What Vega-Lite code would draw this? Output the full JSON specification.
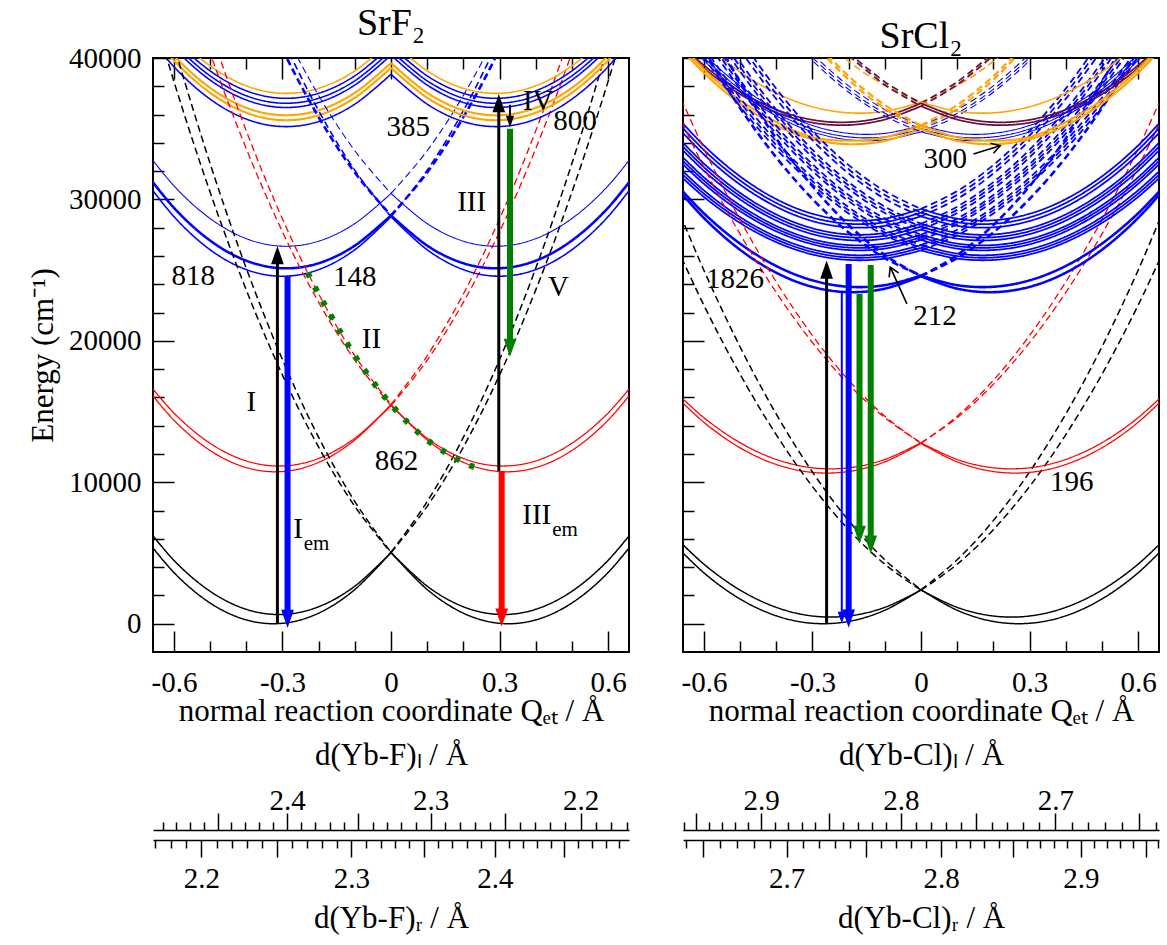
{
"$schema": "https://vega.github.io/schema/vega-lite/v6.json",
"padding": {"left": 26, "top": 4, "right": 5, "bottom": 5},
"config": {
 "font": "Liberation Serif",
 "view": {"stroke": "black", "strokeWidth": 2},
 "axis": {"labelFont": "Liberation Serif", "titleFont": "Liberation Serif", "labelFontSize": 29, "titleFontSize": 31, "titleFontWeight": "normal", "labelColor": "black", "titleColor": "black", "tickColor": "black", "tickWidth": 1.5, "domain": false, "grid": false, "labelOverlap": false, "labelFlush": false},
 "title": {"font": "Liberation Serif", "fontSize": 38, "fontWeight": "normal", "color": "black"}
},
"datasets": {
"f": [
{"i":"G1s","g":"gs","s":"s","q":-0.7,"e":6722},{"i":"G1s","g":"gs","s":"s","q":-0.6,"e":3615},{"i":"G1s","g":"gs","s":"s","q":-0.5,"e":1464},{"i":"G1s","g":"gs","s":"s","q":-0.4,"e":269},{"i":"G1s","g":"gs","s":"s","q":-0.3,"e":30},{"i":"G1s","g":"gs","s":"s","q":-0.2,"e":747},{"i":"G1s","g":"gs","s":"s","q":-0.1,"e":2420},{"i":"G1s","g":"gs","s":"s","q":0,"e":5049},
{"i":"G1d","g":"gs","s":"d","q":0,"e":5049},{"i":"G1d","g":"gs","s":"d","q":0.1,"e":8634},{"i":"G1d","g":"gs","s":"d","q":0.2,"e":13175},{"i":"G1d","g":"gs","s":"d","q":0.3,"e":18672},{"i":"G1d","g":"gs","s":"d","q":0.4,"e":25125},{"i":"G1d","g":"gs","s":"d","q":0.5,"e":32534},{"i":"G1d","g":"gs","s":"d","q":0.6,"e":40899},{"i":"G1d","g":"gs","s":"d","q":0.7,"e":50220},
{"i":"G2s","g":"gs","s":"s","q":-0.7,"e":7571},{"i":"G2s","g":"gs","s":"s","q":-0.6,"e":4477},{"i":"G2s","g":"gs","s":"s","q":-0.5,"e":2293},{"i":"G2s","g":"gs","s":"s","q":-0.4,"e":1019},{"i":"G2s","g":"gs","s":"s","q":-0.3,"e":655},{"i":"G2s","g":"gs","s":"s","q":-0.2,"e":1201},{"i":"G2s","g":"gs","s":"s","q":-0.1,"e":2657},{"i":"G2s","g":"gs","s":"s","q":0,"e":5023},
{"i":"G2d","g":"gs","s":"d","q":0,"e":5023},{"i":"G2d","g":"gs","s":"d","q":0.1,"e":8299},{"i":"G2d","g":"gs","s":"d","q":0.2,"e":12485},{"i":"G2d","g":"gs","s":"d","q":0.3,"e":17581},{"i":"G2d","g":"gs","s":"d","q":0.4,"e":23587},{"i":"G2d","g":"gs","s":"d","q":0.5,"e":30503},{"i":"G2d","g":"gs","s":"d","q":0.6,"e":38329},{"i":"G2d","g":"gs","s":"d","q":0.7,"e":47065},
{"i":"R1s","g":"f52","s":"s","q":-0.7,"e":17455},{"i":"R1s","g":"f52","s":"s","q":-0.6,"e":14386},{"i":"R1s","g":"f52","s":"s","q":-0.5,"e":12247},{"i":"R1s","g":"f52","s":"s","q":-0.4,"e":11038},{"i":"R1s","g":"f52","s":"s","q":-0.3,"e":10759},{"i":"R1s","g":"f52","s":"s","q":-0.2,"e":11410},{"i":"R1s","g":"f52","s":"s","q":-0.1,"e":12991},{"i":"R1s","g":"f52","s":"s","q":0,"e":15502},
{"i":"R1d","g":"f52","s":"d","q":0,"e":15502},{"i":"R1d","g":"f52","s":"d","q":0.1,"e":18943},{"i":"R1d","g":"f52","s":"d","q":0.2,"e":23314},{"i":"R1d","g":"f52","s":"d","q":0.3,"e":28615},{"i":"R1d","g":"f52","s":"d","q":0.4,"e":34846},{"i":"R1d","g":"f52","s":"d","q":0.5,"e":42007},{"i":"R1d","g":"f52","s":"d","q":0.6,"e":50098},
{"i":"R2s","g":"f52","s":"s","q":-0.7,"e":17918},{"i":"R2s","g":"f52","s":"s","q":-0.6,"e":14892},{"i":"R2s","g":"f52","s":"s","q":-0.5,"e":12756},{"i":"R2s","g":"f52","s":"s","q":-0.4,"e":11510},{"i":"R2s","g":"f52","s":"s","q":-0.3,"e":11154},{"i":"R2s","g":"f52","s":"s","q":-0.2,"e":11688},{"i":"R2s","g":"f52","s":"s","q":-0.1,"e":13112},{"i":"R2s","g":"f52","s":"s","q":0,"e":15426},
{"i":"R2d","g":"f52","s":"d","q":0,"e":15426},{"i":"R2d","g":"f52","s":"d","q":0.1,"e":18630},{"i":"R2d","g":"f52","s":"d","q":0.2,"e":22724},{"i":"R2d","g":"f52","s":"d","q":0.3,"e":27708},{"i":"R2d","g":"f52","s":"d","q":0.4,"e":33582},{"i":"R2d","g":"f52","s":"d","q":0.5,"e":40346},{"i":"R2d","g":"f52","s":"d","q":0.6,"e":48000},
{"i":"B1s","g":"d5","s":"s","q":-0.7,"e":32058},{"i":"B1s","g":"d5","s":"s","q":-0.6,"e":28782},{"i":"B1s","g":"d5","s":"s","q":-0.5,"e":26442},{"i":"B1s","g":"d5","s":"s","q":-0.4,"e":25038},{"i":"B1s","g":"d5","s":"s","q":-0.3,"e":24570},{"i":"B1s","g":"d5","s":"s","q":-0.2,"e":25038},{"i":"B1s","g":"d5","s":"s","q":-0.1,"e":26442},{"i":"B1s","g":"d5","s":"s","q":0,"e":28782},
{"i":"B1d","g":"d5","s":"d","q":0,"e":28782},{"i":"B1d","g":"d5","s":"d","q":0.1,"e":32058},{"i":"B1d","g":"d5","s":"d","q":0.2,"e":36270},{"i":"B1d","g":"d5","s":"d","q":0.3,"e":41418},{"i":"B1d","g":"d5","s":"d","q":0.4,"e":47502},
{"i":"B2s","g":"d5b","s":"s","q":-0.7,"e":32610},{"i":"B2s","g":"d5b","s":"s","q":-0.6,"e":29406},{"i":"B2s","g":"d5b","s":"s","q":-0.5,"e":27092},{"i":"B2s","g":"d5b","s":"s","q":-0.4,"e":25668},{"i":"B2s","g":"d5b","s":"s","q":-0.3,"e":25134},{"i":"B2s","g":"d5b","s":"s","q":-0.2,"e":25490},{"i":"B2s","g":"d5b","s":"s","q":-0.1,"e":26736},{"i":"B2s","g":"d5b","s":"s","q":0,"e":28872},
{"i":"B2d","g":"d5b","s":"d","q":0,"e":28872},{"i":"B2d","g":"d5b","s":"d","q":0.1,"e":31898},{"i":"B2d","g":"d5b","s":"d","q":0.2,"e":35814},{"i":"B2d","g":"d5b","s":"d","q":0.3,"e":40620},{"i":"B2d","g":"d5b","s":"d","q":0.4,"e":46316},
{"i":"B3s","g":"d5t","s":"s","q":-0.7,"e":34154},{"i":"B3s","g":"d5t","s":"s","q":-0.6,"e":30957},{"i":"B3s","g":"d5t","s":"s","q":-0.5,"e":28648},{"i":"B3s","g":"d5t","s":"s","q":-0.4,"e":27227},{"i":"B3s","g":"d5t","s":"s","q":-0.3,"e":26694},{"i":"B3s","g":"d5t","s":"s","q":-0.2,"e":27050},{"i":"B3s","g":"d5t","s":"s","q":-0.1,"e":28293},{"i":"B3s","g":"d5t","s":"s","q":0,"e":30424},
{"i":"B3d","g":"d5t","s":"d","q":0,"e":30424},{"i":"B3d","g":"d5t","s":"d","q":0.1,"e":33443},{"i":"B3d","g":"d5t","s":"d","q":0.2,"e":37350},{"i":"B3d","g":"d5t","s":"d","q":0.3,"e":42146},{"i":"B3d","g":"d5t","s":"d","q":0.4,"e":47829},
{"i":"U1s","g":"s6t","s":"s","q":-0.7,"e":44896},{"i":"U1s","g":"s6t","s":"s","q":-0.6,"e":41728},{"i":"U1s","g":"s6t","s":"s","q":-0.5,"e":39440},{"i":"U1s","g":"s6t","s":"s","q":-0.4,"e":38032},{"i":"U1s","g":"s6t","s":"s","q":-0.3,"e":37504},{"i":"U1s","g":"s6t","s":"s","q":-0.2,"e":37856},{"i":"U1s","g":"s6t","s":"s","q":-0.1,"e":39088},{"i":"U1s","g":"s6t","s":"s","q":0,"e":41200},
{"i":"U2s","g":"d5","s":"s","q":-0.7,"e":44546},{"i":"U2s","g":"d5","s":"s","q":-0.6,"e":41378},{"i":"U2s","g":"d5","s":"s","q":-0.5,"e":39090},{"i":"U2s","g":"d5","s":"s","q":-0.4,"e":37682},{"i":"U2s","g":"d5","s":"s","q":-0.3,"e":37154},{"i":"U2s","g":"d5","s":"s","q":-0.2,"e":37506},{"i":"U2s","g":"d5","s":"s","q":-0.1,"e":38738},{"i":"U2s","g":"d5","s":"s","q":0,"e":40850},
{"i":"U3s","g":"d5","s":"s","q":-0.7,"e":44196},{"i":"U3s","g":"d5","s":"s","q":-0.6,"e":41028},{"i":"U3s","g":"d5","s":"s","q":-0.5,"e":38740},{"i":"U3s","g":"d5","s":"s","q":-0.4,"e":37332},{"i":"U3s","g":"d5","s":"s","q":-0.3,"e":36804},{"i":"U3s","g":"d5","s":"s","q":-0.2,"e":37156},{"i":"U3s","g":"d5","s":"s","q":-0.1,"e":38388},{"i":"U3s","g":"d5","s":"s","q":0,"e":40500},
{"i":"U4s","g":"d5","s":"s","q":-0.7,"e":43896},{"i":"U4s","g":"d5","s":"s","q":-0.6,"e":40728},{"i":"U4s","g":"d5","s":"s","q":-0.5,"e":38440},{"i":"U4s","g":"d5","s":"s","q":-0.4,"e":37032},{"i":"U4s","g":"d5","s":"s","q":-0.3,"e":36504},{"i":"U4s","g":"d5","s":"s","q":-0.2,"e":36856},{"i":"U4s","g":"d5","s":"s","q":-0.1,"e":38088},{"i":"U4s","g":"d5","s":"s","q":0,"e":40200},
{"i":"U5s","g":"s6","s":"s","q":-0.7,"e":43346},{"i":"U5s","g":"s6","s":"s","q":-0.6,"e":40178},{"i":"U5s","g":"s6","s":"s","q":-0.5,"e":37890},{"i":"U5s","g":"s6","s":"s","q":-0.4,"e":36482},{"i":"U5s","g":"s6","s":"s","q":-0.3,"e":35954},{"i":"U5s","g":"s6","s":"s","q":-0.2,"e":36306},{"i":"U5s","g":"s6","s":"s","q":-0.1,"e":37538},{"i":"U5s","g":"s6","s":"s","q":0,"e":39650},
{"i":"U6s","g":"s6","s":"s","q":-0.7,"e":42996},{"i":"U6s","g":"s6","s":"s","q":-0.6,"e":39828},{"i":"U6s","g":"s6","s":"s","q":-0.5,"e":37540},{"i":"U6s","g":"s6","s":"s","q":-0.4,"e":36132},{"i":"U6s","g":"s6","s":"s","q":-0.3,"e":35604},{"i":"U6s","g":"s6","s":"s","q":-0.2,"e":35956},{"i":"U6s","g":"s6","s":"s","q":-0.1,"e":37188},{"i":"U6s","g":"s6","s":"s","q":0,"e":39300},
{"i":"U7s","g":"d5","s":"s","q":-0.7,"e":42546},{"i":"U7s","g":"d5","s":"s","q":-0.6,"e":39378},{"i":"U7s","g":"d5","s":"s","q":-0.5,"e":37090},{"i":"U7s","g":"d5","s":"s","q":-0.4,"e":35682},{"i":"U7s","g":"d5","s":"s","q":-0.3,"e":35154},{"i":"U7s","g":"d5","s":"s","q":-0.2,"e":35506},{"i":"U7s","g":"d5","s":"s","q":-0.1,"e":36738},{"i":"U7s","g":"d5","s":"s","q":0,"e":38850}
],
"fp": [
{"q":-0.23,"e":24806},{"q":-0.2,"e":23314},{"q":-0.1,"e":18943},{"q":0,"e":15502},{"q":0.1,"e":12991},{"q":0.2,"e":11410},{"q":0.24,"e":11038}
],
"fa": [
{"q":-0.314,"e1":0,"e2":26060,"g":"abs","d":"up","h":"L"},
{"q":-0.286,"e1":24570,"e2":340,"g":"em5d","d":"dn","h":"L"},
{"q":0.298,"e1":10800,"e2":36810,"g":"abs","d":"up","h":"L"},
{"q":0.306,"e1":10800,"e2":440,"g":"em4f","d":"dn","h":"L"},
{"q":0.329,"e1":35000,"e2":19510,"g":"nr","d":"dn","h":"L"},
{"q":0.329,"e1":36700,"e2":35500,"g":"small","d":"dn","h":"S"}
],
"ft": [
{"t":"818","q":-0.547,"e":24615,"z":"n"},
{"t":"148","q":-0.1,"e":24500,"z":"n"},
{"t":"II","q":-0.054,"e":20140,"z":"n"},
{"t":"I","q":-0.386,"e":15667,"z":"n"},
{"t":"I","q":-0.257,"e":6714,"z":"n"},
{"t":"em","q":-0.206,"e":5654,"z":"s"},
{"t":"862","q":0.015,"e":11540,"z":"n"},
{"t":"III","q":0.223,"e":29800,"z":"n"},
{"t":"IV","q":0.407,"e":36980,"z":"n"},
{"t":"385","q":0.048,"e":35100,"z":"n"},
{"t":"800","q":0.509,"e":35570,"z":"n"},
{"t":"V","q":0.463,"e":23795,"z":"n"},
{"t":"III","q":0.403,"e":7654,"z":"n"},
{"t":"em","q":0.481,"e":6594,"z":"s"}
],
"c": [
{"i":"G1s","g":"gs","s":"s","q":-0.7,"e":6102},{"i":"G1s","g":"gs","s":"s","q":-0.6,"e":3594},{"i":"G1s","g":"gs","s":"s","q":-0.5,"e":1746},{"i":"G1s","g":"gs","s":"s","q":-0.4,"e":558},{"i":"G1s","g":"gs","s":"s","q":-0.3,"e":30},{"i":"G1s","g":"gs","s":"s","q":-0.2,"e":162},{"i":"G1s","g":"gs","s":"s","q":-0.1,"e":954},{"i":"G1s","g":"gs","s":"s","q":0,"e":2406},
{"i":"G1d","g":"gs","s":"d","q":0,"e":2406},{"i":"G1d","g":"gs","s":"d","q":0.1,"e":4518},{"i":"G1d","g":"gs","s":"d","q":0.2,"e":7290},{"i":"G1d","g":"gs","s":"d","q":0.3,"e":10722},{"i":"G1d","g":"gs","s":"d","q":0.4,"e":14814},{"i":"G1d","g":"gs","s":"d","q":0.5,"e":19566},{"i":"G1d","g":"gs","s":"d","q":0.6,"e":24978},{"i":"G1d","g":"gs","s":"d","q":0.7,"e":31050},
{"i":"G2s","g":"gs","s":"s","q":-0.7,"e":6646},{"i":"G2s","g":"gs","s":"s","q":-0.6,"e":4206},{"i":"G2s","g":"gs","s":"s","q":-0.5,"e":2376},{"i":"G2s","g":"gs","s":"s","q":-0.4,"e":1156},{"i":"G2s","g":"gs","s":"s","q":-0.3,"e":546},{"i":"G2s","g":"gs","s":"s","q":-0.2,"e":546},{"i":"G2s","g":"gs","s":"s","q":-0.1,"e":1156},{"i":"G2s","g":"gs","s":"s","q":0,"e":2376},
{"i":"G2d","g":"gs","s":"d","q":0,"e":2376},{"i":"G2d","g":"gs","s":"d","q":0.1,"e":4206},{"i":"G2d","g":"gs","s":"d","q":0.2,"e":6646},{"i":"G2d","g":"gs","s":"d","q":0.3,"e":9696},{"i":"G2d","g":"gs","s":"d","q":0.4,"e":13356},{"i":"G2d","g":"gs","s":"d","q":0.5,"e":17626},{"i":"G2d","g":"gs","s":"d","q":0.6,"e":22506},{"i":"G2d","g":"gs","s":"d","q":0.7,"e":27996},
{"i":"R1s","g":"f52","s":"s","q":-0.7,"e":16652},{"i":"R1s","g":"f52","s":"s","q":-0.6,"e":14234},{"i":"R1s","g":"f52","s":"s","q":-0.5,"e":12436},{"i":"R1s","g":"f52","s":"s","q":-0.4,"e":11258},{"i":"R1s","g":"f52","s":"s","q":-0.3,"e":10700},{"i":"R1s","g":"f52","s":"s","q":-0.2,"e":10762},{"i":"R1s","g":"f52","s":"s","q":-0.1,"e":11444},{"i":"R1s","g":"f52","s":"s","q":0,"e":12746},
{"i":"R1d","g":"f52","s":"d","q":0,"e":12746},{"i":"R1d","g":"f52","s":"d","q":0.1,"e":14668},{"i":"R1d","g":"f52","s":"d","q":0.2,"e":17210},{"i":"R1d","g":"f52","s":"d","q":0.3,"e":20372},{"i":"R1d","g":"f52","s":"d","q":0.4,"e":24154},{"i":"R1d","g":"f52","s":"d","q":0.5,"e":28556},{"i":"R1d","g":"f52","s":"d","q":0.6,"e":33578},{"i":"R1d","g":"f52","s":"d","q":0.7,"e":39220},
{"i":"R2s","g":"f52","s":"s","q":-0.7,"e":16924},{"i":"R2s","g":"f52","s":"s","q":-0.6,"e":14564},{"i":"R2s","g":"f52","s":"s","q":-0.5,"e":12794},{"i":"R2s","g":"f52","s":"s","q":-0.4,"e":11614},{"i":"R2s","g":"f52","s":"s","q":-0.3,"e":11024},{"i":"R2s","g":"f52","s":"s","q":-0.2,"e":11024},{"i":"R2s","g":"f52","s":"s","q":-0.1,"e":11614},{"i":"R2s","g":"f52","s":"s","q":0,"e":12794},
{"i":"R2d","g":"f52","s":"d","q":0,"e":12794},{"i":"R2d","g":"f52","s":"d","q":0.1,"e":14564},{"i":"R2d","g":"f52","s":"d","q":0.2,"e":16924},{"i":"R2d","g":"f52","s":"d","q":0.3,"e":19874},{"i":"R2d","g":"f52","s":"d","q":0.4,"e":23414},{"i":"R2d","g":"f52","s":"d","q":0.5,"e":27544},{"i":"R2d","g":"f52","s":"d","q":0.6,"e":32264},{"i":"R2d","g":"f52","s":"d","q":0.7,"e":37574},
{"i":"L1s","g":"d5b","s":"s","q":-0.7,"e":31555},{"i":"L1s","g":"d5b","s":"s","q":-0.6,"e":28685},{"i":"L1s","g":"d5b","s":"s","q":-0.5,"e":26438},{"i":"L1s","g":"d5b","s":"s","q":-0.4,"e":24816},{"i":"L1s","g":"d5b","s":"s","q":-0.3,"e":23818},{"i":"L1s","g":"d5b","s":"s","q":-0.2,"e":23443},{"i":"L1s","g":"d5b","s":"s","q":-0.1,"e":23693},{"i":"L1s","g":"d5b","s":"s","q":0,"e":24566},
{"i":"L1d","g":"d5b","s":"d","q":0,"e":24566},{"i":"L1d","g":"d5b","s":"d","q":0.1,"e":26064},{"i":"L1d","g":"d5b","s":"d","q":0.2,"e":28186},{"i":"L1d","g":"d5b","s":"d","q":0.3,"e":30931},{"i":"L1d","g":"d5b","s":"d","q":0.4,"e":34301},{"i":"L1d","g":"d5b","s":"d","q":0.5,"e":38294},{"i":"L1d","g":"d5b","s":"d","q":0.6,"e":42912},
{"i":"L2s","g":"d5b","s":"s","q":-0.7,"e":31721},{"i":"L2s","g":"d5b","s":"s","q":-0.6,"e":29014},{"i":"L2s","g":"d5b","s":"s","q":-0.5,"e":26871},{"i":"L2s","g":"d5b","s":"s","q":-0.4,"e":25292},{"i":"L2s","g":"d5b","s":"s","q":-0.3,"e":24277},{"i":"L2s","g":"d5b","s":"s","q":-0.2,"e":23825},{"i":"L2s","g":"d5b","s":"s","q":-0.1,"e":23938},{"i":"L2s","g":"d5b","s":"s","q":0,"e":24615},
{"i":"L2d","g":"d5b","s":"d","q":0,"e":24615},{"i":"L2d","g":"d5b","s":"d","q":0.1,"e":25856},{"i":"L2d","g":"d5b","s":"d","q":0.2,"e":27661},{"i":"L2d","g":"d5b","s":"d","q":0.3,"e":30029},{"i":"L2d","g":"d5b","s":"d","q":0.4,"e":32962},{"i":"L2d","g":"d5b","s":"d","q":0.5,"e":36459},{"i":"L2d","g":"d5b","s":"d","q":0.6,"e":40520},
{"i":"C1s","g":"d5c","s":"s","q":-0.7,"e":32498},{"i":"C1s","g":"d5c","s":"s","q":-0.6,"e":30175},{"i":"C1s","g":"d5c","s":"s","q":-0.5,"e":28335},{"i":"C1s","g":"d5c","s":"s","q":-0.4,"e":26980},{"i":"C1s","g":"d5c","s":"s","q":-0.3,"e":26109},{"i":"C1s","g":"d5c","s":"s","q":-0.2,"e":25722},{"i":"C1s","g":"d5c","s":"s","q":-0.1,"e":25819},{"i":"C1s","g":"d5c","s":"s","q":0,"e":26399},
{"i":"C1d","g":"d5c","s":"d","q":0,"e":26399},{"i":"C1d","g":"d5c","s":"d","q":0.1,"e":27464},{"i":"C1d","g":"d5c","s":"d","q":0.2,"e":29013},{"i":"C1d","g":"d5c","s":"d","q":0.3,"e":31046},{"i":"C1d","g":"d5c","s":"d","q":0.4,"e":33563},{"i":"C1d","g":"d5c","s":"d","q":0.5,"e":36563},{"i":"C1d","g":"d5c","s":"d","q":0.6,"e":40048},{"i":"C1d","g":"d5c","s":"d","q":0.7,"e":44017},
{"i":"Cas","g":"d5c","s":"s","q":-0.7,"e":32757},{"i":"Cas","g":"d5c","s":"s","q":-0.6,"e":30406},{"i":"Cas","g":"d5c","s":"s","q":-0.5,"e":28543},{"i":"Cas","g":"d5c","s":"s","q":-0.4,"e":27171},{"i":"Cas","g":"d5c","s":"s","q":-0.3,"e":26289},{"i":"Cas","g":"d5c","s":"s","q":-0.2,"e":25897},{"i":"Cas","g":"d5c","s":"s","q":-0.1,"e":25996},{"i":"Cas","g":"d5c","s":"s","q":0,"e":26583},
{"i":"Cad","g":"d5c","s":"d","q":0,"e":26583},{"i":"Cad","g":"d5c","s":"d","q":0.1,"e":27661},{"i":"Cad","g":"d5c","s":"d","q":0.2,"e":29229},{"i":"Cad","g":"d5c","s":"d","q":0.3,"e":31287},{"i":"Cad","g":"d5c","s":"d","q":0.4,"e":33836},{"i":"Cad","g":"d5c","s":"d","q":0.5,"e":36873},{"i":"Cad","g":"d5c","s":"d","q":0.6,"e":40401},
{"i":"C2s","g":"d5c","s":"s","q":-0.7,"e":33016},{"i":"C2s","g":"d5c","s":"s","q":-0.6,"e":30636},{"i":"C2s","g":"d5c","s":"s","q":-0.5,"e":28751},{"i":"C2s","g":"d5c","s":"s","q":-0.4,"e":27362},{"i":"C2s","g":"d5c","s":"s","q":-0.3,"e":26469},{"i":"C2s","g":"d5c","s":"s","q":-0.2,"e":26072},{"i":"C2s","g":"d5c","s":"s","q":-0.1,"e":26172},{"i":"C2s","g":"d5c","s":"s","q":0,"e":26767},
{"i":"C2d","g":"d5c","s":"d","q":0,"e":26767},{"i":"C2d","g":"d5c","s":"d","q":0.1,"e":27858},{"i":"C2d","g":"d5c","s":"d","q":0.2,"e":29445},{"i":"C2d","g":"d5c","s":"d","q":0.3,"e":31528},{"i":"C2d","g":"d5c","s":"d","q":0.4,"e":34108},{"i":"C2d","g":"d5c","s":"d","q":0.5,"e":37183},{"i":"C2d","g":"d5c","s":"d","q":0.6,"e":40754},
{"i":"C3s","g":"d5c","s":"s","q":-0.7,"e":33535},{"i":"C3s","g":"d5c","s":"s","q":-0.6,"e":31096},{"i":"C3s","g":"d5c","s":"s","q":-0.5,"e":29166},{"i":"C3s","g":"d5c","s":"s","q":-0.4,"e":27744},{"i":"C3s","g":"d5c","s":"s","q":-0.3,"e":26829},{"i":"C3s","g":"d5c","s":"s","q":-0.2,"e":26423},{"i":"C3s","g":"d5c","s":"s","q":-0.1,"e":26524},{"i":"C3s","g":"d5c","s":"s","q":0,"e":27134},
{"i":"C3d","g":"d5c","s":"d","q":0,"e":27134},{"i":"C3d","g":"d5c","s":"d","q":0.1,"e":28252},{"i":"C3d","g":"d5c","s":"d","q":0.2,"e":29877},{"i":"C3d","g":"d5c","s":"d","q":0.3,"e":32011},{"i":"C3d","g":"d5c","s":"d","q":0.4,"e":34652},{"i":"C3d","g":"d5c","s":"d","q":0.5,"e":37802},{"i":"C3d","g":"d5c","s":"d","q":0.6,"e":41460},
{"i":"Cbs","g":"d5c","s":"s","q":-0.7,"e":33794},{"i":"Cbs","g":"d5c","s":"s","q":-0.6,"e":31327},{"i":"Cbs","g":"d5c","s":"s","q":-0.5,"e":29374},{"i":"Cbs","g":"d5c","s":"s","q":-0.4,"e":27935},{"i":"Cbs","g":"d5c","s":"s","q":-0.3,"e":27009},{"i":"Cbs","g":"d5c","s":"s","q":-0.2,"e":26598},{"i":"Cbs","g":"d5c","s":"s","q":-0.1,"e":26701},{"i":"Cbs","g":"d5c","s":"s","q":0,"e":27318},
{"i":"Cbd","g":"d5c","s":"d","q":0,"e":27318},{"i":"Cbd","g":"d5c","s":"d","q":0.1,"e":28449},{"i":"Cbd","g":"d5c","s":"d","q":0.2,"e":30093},{"i":"Cbd","g":"d5c","s":"d","q":0.3,"e":32252},{"i":"Cbd","g":"d5c","s":"d","q":0.4,"e":34925},{"i":"Cbd","g":"d5c","s":"d","q":0.5,"e":38112},{"i":"Cbd","g":"d5c","s":"d","q":0.6,"e":41813},
{"i":"C4s","g":"d5c","s":"s","q":-0.7,"e":34053},{"i":"C4s","g":"d5c","s":"s","q":-0.6,"e":31557},{"i":"C4s","g":"d5c","s":"s","q":-0.5,"e":29581},{"i":"C4s","g":"d5c","s":"s","q":-0.4,"e":28125},{"i":"C4s","g":"d5c","s":"s","q":-0.3,"e":27189},{"i":"C4s","g":"d5c","s":"s","q":-0.2,"e":26773},{"i":"C4s","g":"d5c","s":"s","q":-0.1,"e":26877},{"i":"C4s","g":"d5c","s":"s","q":0,"e":27501},
{"i":"C4d","g":"d5c","s":"d","q":0,"e":27501},{"i":"C4d","g":"d5c","s":"d","q":0.1,"e":28645},{"i":"C4d","g":"d5c","s":"d","q":0.2,"e":30309},{"i":"C4d","g":"d5c","s":"d","q":0.3,"e":32493},{"i":"C4d","g":"d5c","s":"d","q":0.4,"e":35197},{"i":"C4d","g":"d5c","s":"d","q":0.5,"e":38421},{"i":"C4d","g":"d5c","s":"d","q":0.6,"e":42165},
{"i":"C5s","g":"d5c","s":"s","q":-0.7,"e":34572},{"i":"C5s","g":"d5c","s":"s","q":-0.6,"e":32018},{"i":"C5s","g":"d5c","s":"s","q":-0.5,"e":29997},{"i":"C5s","g":"d5c","s":"s","q":-0.4,"e":28507},{"i":"C5s","g":"d5c","s":"s","q":-0.3,"e":27550},{"i":"C5s","g":"d5c","s":"s","q":-0.2,"e":27124},{"i":"C5s","g":"d5c","s":"s","q":-0.1,"e":27230},{"i":"C5s","g":"d5c","s":"s","q":0,"e":27869},
{"i":"C5d","g":"d5c","s":"d","q":0,"e":27869},{"i":"C5d","g":"d5c","s":"d","q":0.1,"e":29039},{"i":"C5d","g":"d5c","s":"d","q":0.2,"e":30742},{"i":"C5d","g":"d5c","s":"d","q":0.3,"e":32976},{"i":"C5d","g":"d5c","s":"d","q":0.4,"e":35742},{"i":"C5d","g":"d5c","s":"d","q":0.5,"e":39041},{"i":"C5d","g":"d5c","s":"d","q":0.6,"e":42871},
{"i":"Ccs","g":"d5c","s":"s","q":-0.7,"e":34856},{"i":"Ccs","g":"d5c","s":"s","q":-0.6,"e":32274},{"i":"Ccs","g":"d5c","s":"s","q":-0.5,"e":30230},{"i":"Ccs","g":"d5c","s":"s","q":-0.4,"e":28723},{"i":"Ccs","g":"d5c","s":"s","q":-0.3,"e":27755},{"i":"Ccs","g":"d5c","s":"s","q":-0.2,"e":27324},{"i":"Ccs","g":"d5c","s":"s","q":-0.1,"e":27432},{"i":"Ccs","g":"d5c","s":"s","q":0,"e":28078},
{"i":"Ccd","g":"d5c","s":"d","q":0,"e":28078},{"i":"Ccd","g":"d5c","s":"d","q":0.1,"e":29261},{"i":"Ccd","g":"d5c","s":"d","q":0.2,"e":30983},{"i":"Ccd","g":"d5c","s":"d","q":0.3,"e":33242},{"i":"Ccd","g":"d5c","s":"d","q":0.4,"e":36040},{"i":"Ccd","g":"d5c","s":"d","q":0.5,"e":39376},{"i":"Ccd","g":"d5c","s":"d","q":0.6,"e":43249},
{"i":"C6s","g":"d5c","s":"s","q":-0.7,"e":35140},{"i":"C6s","g":"d5c","s":"s","q":-0.6,"e":32529},{"i":"C6s","g":"d5c","s":"s","q":-0.5,"e":30462},{"i":"C6s","g":"d5c","s":"s","q":-0.4,"e":28939},{"i":"C6s","g":"d5c","s":"s","q":-0.3,"e":27960},{"i":"C6s","g":"d5c","s":"s","q":-0.2,"e":27524},{"i":"C6s","g":"d5c","s":"s","q":-0.1,"e":27633},{"i":"C6s","g":"d5c","s":"s","q":0,"e":28286},
{"i":"C6d","g":"d5c","s":"d","q":0,"e":28286},{"i":"C6d","g":"d5c","s":"d","q":0.1,"e":29483},{"i":"C6d","g":"d5c","s":"d","q":0.2,"e":31224},{"i":"C6d","g":"d5c","s":"d","q":0.3,"e":33508},{"i":"C6d","g":"d5c","s":"d","q":0.4,"e":36337},{"i":"C6d","g":"d5c","s":"d","q":0.5,"e":39710},{"i":"C6d","g":"d5c","s":"d","q":0.6,"e":43627},
{"i":"C7s","g":"d5c","s":"s","q":-0.7,"e":35865},{"i":"C7s","g":"d5c","s":"s","q":-0.6,"e":33177},{"i":"C7s","g":"d5c","s":"s","q":-0.5,"e":31049},{"i":"C7s","g":"d5c","s":"s","q":-0.4,"e":29481},{"i":"C7s","g":"d5c","s":"s","q":-0.3,"e":28473},{"i":"C7s","g":"d5c","s":"s","q":-0.2,"e":28025},{"i":"C7s","g":"d5c","s":"s","q":-0.1,"e":28137},{"i":"C7s","g":"d5c","s":"s","q":0,"e":28809},
{"i":"C7d","g":"d5c","s":"d","q":0,"e":28809},{"i":"C7d","g":"d5c","s":"d","q":0.1,"e":30041},{"i":"C7d","g":"d5c","s":"d","q":0.2,"e":31833},{"i":"C7d","g":"d5c","s":"d","q":0.3,"e":34185},{"i":"C7d","g":"d5c","s":"d","q":0.4,"e":37097},{"i":"C7d","g":"d5c","s":"d","q":0.5,"e":40569},
{"i":"Cds","g":"d5c","s":"s","q":-0.7,"e":36214},{"i":"Cds","g":"d5c","s":"s","q":-0.6,"e":33492},{"i":"Cds","g":"d5c","s":"s","q":-0.5,"e":31337},{"i":"Cds","g":"d5c","s":"s","q":-0.4,"e":29750},{"i":"Cds","g":"d5c","s":"s","q":-0.3,"e":28729},{"i":"Cds","g":"d5c","s":"s","q":-0.2,"e":28276},{"i":"Cds","g":"d5c","s":"s","q":-0.1,"e":28389},{"i":"Cds","g":"d5c","s":"s","q":0,"e":29069},
{"i":"Cdd","g":"d5c","s":"d","q":0,"e":29069},{"i":"Cdd","g":"d5c","s":"d","q":0.1,"e":30317},{"i":"Cdd","g":"d5c","s":"d","q":0.2,"e":32131},{"i":"Cdd","g":"d5c","s":"d","q":0.3,"e":34513},{"i":"Cdd","g":"d5c","s":"d","q":0.4,"e":37461},{"i":"Cdd","g":"d5c","s":"d","q":0.5,"e":40976},
{"i":"C8s","g":"d5c","s":"s","q":-0.7,"e":36562},{"i":"C8s","g":"d5c","s":"s","q":-0.6,"e":33807},{"i":"C8s","g":"d5c","s":"s","q":-0.5,"e":31625},{"i":"C8s","g":"d5c","s":"s","q":-0.4,"e":30018},{"i":"C8s","g":"d5c","s":"s","q":-0.3,"e":28985},{"i":"C8s","g":"d5c","s":"s","q":-0.2,"e":28526},{"i":"C8s","g":"d5c","s":"s","q":-0.1,"e":28641},{"i":"C8s","g":"d5c","s":"s","q":0,"e":29329},
{"i":"C8d","g":"d5c","s":"d","q":0,"e":29329},{"i":"C8d","g":"d5c","s":"d","q":0.1,"e":30592},{"i":"C8d","g":"d5c","s":"d","q":0.2,"e":32429},{"i":"C8d","g":"d5c","s":"d","q":0.3,"e":34840},{"i":"C8d","g":"d5c","s":"d","q":0.4,"e":37825},{"i":"C8d","g":"d5c","s":"d","q":0.5,"e":41383},
{"i":"U1s","g":"s6t","s":"s","q":-0.7,"e":43600},{"i":"U1s","g":"s6t","s":"s","q":-0.6,"e":41037},{"i":"U1s","g":"s6t","s":"s","q":-0.5,"e":39008},{"i":"U1s","g":"s6t","s":"s","q":-0.4,"e":37512},{"i":"U1s","g":"s6t","s":"s","q":-0.3,"e":36551},{"i":"U1s","g":"s6t","s":"s","q":-0.2,"e":36124},{"i":"U1s","g":"s6t","s":"s","q":-0.1,"e":36231},{"i":"U1s","g":"s6t","s":"s","q":0,"e":36872},
{"i":"U1d","g":"s6t","s":"d","q":0,"e":36872},{"i":"U1d","g":"s6t","s":"d","q":0.1,"e":38046},{"i":"U1d","g":"s6t","s":"d","q":0.2,"e":39755},{"i":"U1d","g":"s6t","s":"d","q":0.3,"e":41998},
{"i":"M1s","g":"x","s":"s","q":-0.7,"e":41878},{"i":"M1s","g":"x","s":"s","q":-0.6,"e":39479},{"i":"M1s","g":"x","s":"s","q":-0.5,"e":37637},{"i":"M1s","g":"x","s":"s","q":-0.4,"e":36354},{"i":"M1s","g":"x","s":"s","q":-0.3,"e":35629},{"i":"M1s","g":"x","s":"s","q":-0.2,"e":35461},{"i":"M1s","g":"x","s":"s","q":-0.1,"e":35852},{"i":"M1s","g":"x","s":"s","q":0,"e":36800},
{"i":"M1d","g":"x","s":"d","q":0,"e":36800},{"i":"M1d","g":"x","s":"d","q":0.1,"e":38307},{"i":"M1d","g":"x","s":"d","q":0.2,"e":40372},
{"i":"M2s","g":"x","s":"s","q":-0.7,"e":41678},{"i":"M2s","g":"x","s":"s","q":-0.6,"e":39279},{"i":"M2s","g":"x","s":"s","q":-0.5,"e":37437},{"i":"M2s","g":"x","s":"s","q":-0.4,"e":36154},{"i":"M2s","g":"x","s":"s","q":-0.3,"e":35429},{"i":"M2s","g":"x","s":"s","q":-0.2,"e":35261},{"i":"M2s","g":"x","s":"s","q":-0.1,"e":35652},{"i":"M2s","g":"x","s":"s","q":0,"e":36600},
{"i":"M2d","g":"x","s":"d","q":0,"e":36600},{"i":"M2d","g":"x","s":"d","q":0.1,"e":38107},{"i":"M2d","g":"x","s":"d","q":0.2,"e":40172},
{"i":"V1s","g":"d5t","s":"s","q":-0.7,"e":43070},{"i":"V1s","g":"d5t","s":"s","q":-0.6,"e":40270},{"i":"V1s","g":"d5t","s":"s","q":-0.5,"e":38030},{"i":"V1s","g":"d5t","s":"s","q":-0.4,"e":36350},{"i":"V1s","g":"d5t","s":"s","q":-0.3,"e":35230},{"i":"V1s","g":"d5t","s":"s","q":-0.2,"e":34670},{"i":"V1s","g":"d5t","s":"s","q":-0.1,"e":34670},{"i":"V1s","g":"d5t","s":"s","q":0,"e":35230},
{"i":"V1d","g":"d5t","s":"d","q":0,"e":35230},{"i":"V1d","g":"d5t","s":"d","q":0.1,"e":36350},{"i":"V1d","g":"d5t","s":"d","q":0.2,"e":38030},{"i":"V1d","g":"d5t","s":"d","q":0.3,"e":40270},
{"i":"V2s","g":"d5t","s":"s","q":-0.7,"e":42820},{"i":"V2s","g":"d5t","s":"s","q":-0.6,"e":40020},{"i":"V2s","g":"d5t","s":"s","q":-0.5,"e":37780},{"i":"V2s","g":"d5t","s":"s","q":-0.4,"e":36100},{"i":"V2s","g":"d5t","s":"s","q":-0.3,"e":34980},{"i":"V2s","g":"d5t","s":"s","q":-0.2,"e":34420},{"i":"V2s","g":"d5t","s":"s","q":-0.1,"e":34420},{"i":"V2s","g":"d5t","s":"s","q":0,"e":34980},
{"i":"V2d","g":"d5t","s":"d","q":0,"e":34980},{"i":"V2d","g":"d5t","s":"d","q":0.1,"e":36100},{"i":"V2d","g":"d5t","s":"d","q":0.2,"e":37780},{"i":"V2d","g":"d5t","s":"d","q":0.3,"e":40020},
{"i":"V3s","g":"d5t","s":"s","q":-0.7,"e":42620},{"i":"V3s","g":"d5t","s":"s","q":-0.6,"e":39820},{"i":"V3s","g":"d5t","s":"s","q":-0.5,"e":37580},{"i":"V3s","g":"d5t","s":"s","q":-0.4,"e":35900},{"i":"V3s","g":"d5t","s":"s","q":-0.3,"e":34780},{"i":"V3s","g":"d5t","s":"s","q":-0.2,"e":34220},{"i":"V3s","g":"d5t","s":"s","q":-0.1,"e":34220},{"i":"V3s","g":"d5t","s":"s","q":0,"e":34780},
{"i":"V3d","g":"d5t","s":"d","q":0,"e":34780},{"i":"V3d","g":"d5t","s":"d","q":0.1,"e":35900},{"i":"V3d","g":"d5t","s":"d","q":0.2,"e":37580},{"i":"V3d","g":"d5t","s":"d","q":0.3,"e":39820},{"i":"V3d","g":"d5t","s":"d","q":0.4,"e":42620},
{"i":"O1s","g":"s6","s":"s","q":-0.7,"e":41703},{"i":"O1s","g":"s6","s":"s","q":-0.6,"e":38943},{"i":"O1s","g":"s6","s":"s","q":-0.5,"e":36783},{"i":"O1s","g":"s6","s":"s","q":-0.4,"e":35223},{"i":"O1s","g":"s6","s":"s","q":-0.3,"e":34263},{"i":"O1s","g":"s6","s":"s","q":-0.2,"e":33903},{"i":"O1s","g":"s6","s":"s","q":-0.1,"e":34143},{"i":"O1s","g":"s6","s":"s","q":0,"e":34983},
{"i":"O1d","g":"s6","s":"d","q":0,"e":34983},{"i":"O1d","g":"s6","s":"d","q":0.1,"e":36423},{"i":"O1d","g":"s6","s":"d","q":0.2,"e":38463},{"i":"O1d","g":"s6","s":"d","q":0.3,"e":41103},
{"i":"O2s","g":"s6","s":"s","q":-0.7,"e":41953},{"i":"O2s","g":"s6","s":"s","q":-0.6,"e":39193},{"i":"O2s","g":"s6","s":"s","q":-0.5,"e":37033},{"i":"O2s","g":"s6","s":"s","q":-0.4,"e":35473},{"i":"O2s","g":"s6","s":"s","q":-0.3,"e":34413},{"i":"O2s","g":"s6","s":"s","q":-0.2,"e":34153},{"i":"O2s","g":"s6","s":"s","q":-0.1,"e":34393},{"i":"O2s","g":"s6","s":"s","q":0,"e":35233},
{"i":"O2d","g":"s6","s":"d","q":0,"e":35233},{"i":"O2d","g":"s6","s":"d","q":0.1,"e":36673},{"i":"O2d","g":"s6","s":"d","q":0.2,"e":38713},{"i":"O2d","g":"s6","s":"d","q":0.3,"e":41353}
],
"cp": [
{"i":"a212","q":-0.039,"e":22614},{"i":"a212","q":-0.085,"e":25208},
{"i":"a300","q":0.145,"e":33215},{"i":"a300","q":0.219,"e":33800}
],
"ca": [
{"q":-0.261,"e1":0,"e2":25035,"g":"abs","d":"up","h":"L"},
{"q":-0.2,"e1":25440,"e2":360,"g":"em5d","d":"dn","h":"L"},
{"q":-0.219,"e1":23400,"e2":430,"g":"thin5d","d":"dn","h":"S"},
{"q":-0.17,"e1":23320,"e2":6290,"g":"nr","d":"dn","h":"L"},
{"q":-0.139,"e1":25370,"e2":5590,"g":"nr","d":"dn","h":"L"}
],
"ct": [
{"t":"1826","q":-0.514,"e":24380,"z":"n"},
{"t":"212","q":0.039,"e":21790,"z":"n"},
{"t":"300","q":0.067,"e":32860,"z":"n"},
{"t":"196","q":0.417,"e":10014,"z":"n"}
]
},
"bounds": "flush",
"columns": 2,
"spacing": {"row": 178, "column": 54},
"concat": [
 {
  "title": {"text": "SrF₂", "frame": "group", "offset": 1},
  "width": 476, "height": 594,
  "resolve": {"scale": {"x": "independent", "y": "independent"}},
  "layer": [
   {"data": {"name": "f"},
    "mark": {"type": "line", "interpolate": "cardinal", "tension": 0, "clip": true},
    "encoding": {
     "x": {"field": "q", "type": "quantitative", "scale": {"domain": [-0.658, 0.658], "nice": false, "zero": false},
       "axis": {"orient": "bottom", "values": [-0.6,-0.5,-0.4,-0.3,-0.2,-0.1,0,0.1,0.2,0.3,0.4,0.5,0.6],
         "tickSize": {"condition": {"test": "round(datum.value*10)%3===0", "value": -21}, "value": -11},
         "labelExpr": "round(datum.value*10)%3===0 ? (datum.value<0?'-':'')+format(abs(datum.value),'.1~f') : ''",
         "labelOverlap": false, "labelPadding": 37, "title": "normal reaction coordinate Qₑₜ / Å", "titlePadding": -11}},
     "y": {"field": "e", "type": "quantitative", "scale": {"domain": [-2000, 40000], "nice": false, "zero": false},
       "axis": {"orient": "left", "values": [0,10000,20000,30000,40000], "tickSize": -21, "format": "d",
         "labelOverlap": false, "labelPadding": 33, "title": "Energy (cm⁻¹)", "titlePadding": 9}},
     "color": {"field": "g", "type": "nominal", "legend": null, "scale": {"domain": ["gs","f52","d5","d5b","d5t","d5c","s6","s6t","x","abs","em5d","em4f","nr","thin5d","small"], "range": ["#000000","#ff0000","#0000ff","#0000ff","#0000ff","#0000ff","#ffa500","#ffa500","#6a0f3a","#000000","#0000ff","#ff0000","#008000","#0000ff","#000000"]}},
     "strokeWidth": {"field": "g", "type": "nominal", "legend": null, "scale": {"type": "ordinal", "domain": ["gs","f52","d5","d5b","d5t","d5c","s6","s6t","x","abs","em5d","em4f","nr","thin5d","small"], "range": [1.5,1.3,1.6,2.6,1.1,1.8,2.2,1.6,1.8,3,6,6,6,2,2]}},
     "strokeDash": {"field": "s", "type": "nominal", "legend": null, "scale": {"domain": ["s","d"], "range": [[1,0],[7,4]]}},
     "detail": {"field": "i"}
    }},
   {"data": {"name": "f"},
    "mark": {"type": "line", "interpolate": "cardinal", "tension": 0, "clip": true},
    "encoding": {
     "x": {"field": "q", "type": "quantitative", "scale": {"domain": [-0.658, 0.658], "nice": false, "zero": false, "reverse": true}, "axis": null},
     "y": {"field": "e", "type": "quantitative", "scale": {"domain": [-2000, 40000], "nice": false, "zero": false},
       "axis": {"orient": "left", "values": [2000,4000,6000,8000,12000,14000,16000,18000,22000,24000,26000,28000,32000,34000,36000,38000], "tickSize": -11, "labels": false, "title": null}},
     "color": {"field": "g", "type": "nominal", "legend": null, "scale": {"domain": ["gs","f52","d5","d5b","d5t","d5c","s6","s6t","x","abs","em5d","em4f","nr","thin5d","small"], "range": ["#000000","#ff0000","#0000ff","#0000ff","#0000ff","#0000ff","#ffa500","#ffa500","#6a0f3a","#000000","#0000ff","#ff0000","#008000","#0000ff","#000000"]}},
     "strokeWidth": {"field": "g", "type": "nominal", "legend": null, "scale": {"type": "ordinal", "domain": ["gs","f52","d5","d5b","d5t","d5c","s6","s6t","x","abs","em5d","em4f","nr","thin5d","small"], "range": [1.5,1.3,1.6,2.6,1.1,1.8,2.2,1.6,1.8,3,6,6,6,2,2]}},
     "strokeDash": {"field": "s", "type": "nominal", "legend": null, "scale": {"domain": ["s","d"], "range": [[1,0],[7,4]]}},
     "detail": {"field": "i"}
    }},
   {"data": {"name": "fp"},
    "mark": {"type": "line", "interpolate": "cardinal", "tension": 0, "color": "#008000", "strokeWidth": 6, "strokeDash": [5, 11], "strokeCap": "butt"},
    "encoding": {
     "x": {"field": "q", "type": "quantitative", "scale": {"domain": [-0.658, 0.658], "nice": false, "zero": false},
       "axis": {"orient": "top", "values": [-0.6,-0.5,-0.4,-0.3,-0.2,-0.1,0,0.1,0.2,0.3,0.4,0.5,0.6],
         "tickSize": {"condition": {"test": "round(datum.value*10)%3===0", "value": -21}, "value": -11},
         "labels": false, "title": null}},
     "y": {"field": "e", "type": "quantitative", "scale": {"domain": [-2000, 40000], "nice": false, "zero": false}, "axis": null}
    }},
   {"data": {"name": "fa"},
    "mark": {"type": "rule", "strokeCap": "butt"},
    "encoding": {
     "x": {"field": "q", "type": "quantitative", "scale": {"domain": [-0.658, 0.658], "nice": false, "zero": false}, "axis": null},
     "y": {"field": "e1", "type": "quantitative", "scale": {"domain": [-2000, 40000], "nice": false, "zero": false}, "axis": null},
     "y2": {"field": "e2"},
     "color": {"field": "g", "type": "nominal", "legend": null, "scale": {"domain": ["gs","f52","d5","d5b","d5t","d5c","s6","s6t","x","abs","em5d","em4f","nr","thin5d","small"], "range": ["#000000","#ff0000","#0000ff","#0000ff","#0000ff","#0000ff","#ffa500","#ffa500","#6a0f3a","#000000","#0000ff","#ff0000","#008000","#0000ff","#000000"]}},
     "strokeWidth": {"field": "g", "type": "nominal", "legend": null, "scale": {"type": "ordinal", "domain": ["gs","f52","d5","d5b","d5t","d5c","s6","s6t","x","abs","em5d","em4f","nr","thin5d","small"], "range": [1.5,1.3,1.6,2.6,1.1,1.8,2.2,1.6,1.8,3,6,6,6,2,2]}}
    }},
   {"data": {"name": "fa"},
    "mark": {"type": "point", "filled": true, "opacity": 1, "strokeWidth": 0},
    "encoding": {
     "x": {"field": "q", "type": "quantitative", "scale": {"domain": [-0.658, 0.658], "nice": false, "zero": false}, "axis": null},
     "y": {"field": "e2", "type": "quantitative", "scale": {"domain": [-2000, 40000], "nice": false, "zero": false}, "axis": null},
     "color": {"field": "g", "type": "nominal", "legend": null, "scale": {"domain": ["gs","f52","d5","d5b","d5t","d5c","s6","s6t","x","abs","em5d","em4f","nr","thin5d","small"], "range": ["#000000","#ff0000","#0000ff","#0000ff","#0000ff","#0000ff","#ffa500","#ffa500","#6a0f3a","#000000","#0000ff","#ff0000","#008000","#0000ff","#000000"]}},
     "shape": {"field": "d", "type": "nominal", "legend": null, "scale": {"domain": ["up","dn"], "range": ["M-0.7,1L0.7,1L0,-1Z","M-0.7,-1L0.7,-1L0,1Z"]}},
     "size": {"field": "h", "type": "nominal", "legend": null, "scale": {"type": "ordinal", "domain": ["L","S","n","s"], "range": [330,140,29,21]}}
    }},
   {"data": {"name": "ft"},
    "mark": {"type": "text", "font": "Liberation Serif", "color": "black", "align": "center", "baseline": "middle"},
    "encoding": {
     "x": {"field": "q", "type": "quantitative", "scale": {"domain": [-0.658, 0.658], "nice": false, "zero": false}, "axis": null},
     "y": {"field": "e", "type": "quantitative", "scale": {"domain": [-2000, 40000], "nice": false, "zero": false}, "axis": null},
     "text": {"field": "t"},
     "size": {"field": "z", "type": "nominal", "legend": null, "scale": {"type": "ordinal", "domain": ["L","S","n","s"], "range": [330,140,29,21]}}
    }}
  ]
 },
 {
  "title": {"text": "SrCl₂", "frame": "group", "offset": 1},
  "width": 476, "height": 594,
  "resolve": {"scale": {"x": "independent", "y": "independent"}},
  "layer": [
   {"data": {"name": "c"},
    "mark": {"type": "line", "interpolate": "cardinal", "tension": 0, "clip": true},
    "encoding": {
     "x": {"field": "q", "type": "quantitative", "scale": {"domain": [-0.658, 0.658], "nice": false, "zero": false},
       "axis": {"orient": "bottom", "values": [-0.6,-0.5,-0.4,-0.3,-0.2,-0.1,0,0.1,0.2,0.3,0.4,0.5,0.6],
         "tickSize": {"condition": {"test": "round(datum.value*10)%3===0", "value": -21}, "value": -11},
         "labelExpr": "round(datum.value*10)%3===0 ? (datum.value<0?'-':'')+format(abs(datum.value),'.1~f') : ''",
         "labelOverlap": false, "labelPadding": 37, "title": "normal reaction coordinate Qₑₜ / Å", "titlePadding": -11}},
     "y": {"field": "e", "type": "quantitative", "scale": {"domain": [-2000, 40000], "nice": false, "zero": false},
       "axis": {"orient": "left", "values": [0,10000,20000,30000,40000], "tickSize": -21, "labels": false, "title": null}},
     "color": {"field": "g", "type": "nominal", "legend": null, "scale": {"domain": ["gs","f52","d5","d5b","d5t","d5c","s6","s6t","x","abs","em5d","em4f","nr","thin5d","small"], "range": ["#000000","#ff0000","#0000ff","#0000ff","#0000ff","#0000ff","#ffa500","#ffa500","#6a0f3a","#000000","#0000ff","#ff0000","#008000","#0000ff","#000000"]}},
     "strokeWidth": {"field": "g", "type": "nominal", "legend": null, "scale": {"type": "ordinal", "domain": ["gs","f52","d5","d5b","d5t","d5c","s6","s6t","x","abs","em5d","em4f","nr","thin5d","small"], "range": [1.5,1.3,1.6,2.2,1.6,2.0,2.2,1.6,1.8,3,6,6,6,2,2]}},
     "strokeDash": {"field": "s", "type": "nominal", "legend": null, "scale": {"domain": ["s","d"], "range": [[1,0],[7,4]]}},
     "detail": {"field": "i"}
    }},
   {"data": {"name": "c"},
    "mark": {"type": "line", "interpolate": "cardinal", "tension": 0, "clip": true},
    "encoding": {
     "x": {"field": "q", "type": "quantitative", "scale": {"domain": [-0.658, 0.658], "nice": false, "zero": false, "reverse": true}, "axis": null},
     "y": {"field": "e", "type": "quantitative", "scale": {"domain": [-2000, 40000], "nice": false, "zero": false},
       "axis": {"orient": "left", "values": [2000,4000,6000,8000,12000,14000,16000,18000,22000,24000,26000,28000,32000,34000,36000,38000], "tickSize": -11, "labels": false, "title": null}},
     "color": {"field": "g", "type": "nominal", "legend": null, "scale": {"domain": ["gs","f52","d5","d5b","d5t","d5c","s6","s6t","x","abs","em5d","em4f","nr","thin5d","small"], "range": ["#000000","#ff0000","#0000ff","#0000ff","#0000ff","#0000ff","#ffa500","#ffa500","#6a0f3a","#000000","#0000ff","#ff0000","#008000","#0000ff","#000000"]}},
     "strokeWidth": {"field": "g", "type": "nominal", "legend": null, "scale": {"type": "ordinal", "domain": ["gs","f52","d5","d5b","d5t","d5c","s6","s6t","x","abs","em5d","em4f","nr","thin5d","small"], "range": [1.5,1.3,1.6,2.2,1.6,2.0,2.2,1.6,1.8,3,6,6,6,2,2]}},
     "strokeDash": {"field": "s", "type": "nominal", "legend": null, "scale": {"domain": ["s","d"], "range": [[1,0],[7,4]]}},
     "detail": {"field": "i"}
    }},
   {"data": {"name": "cp"},
    "mark": {"type": "line", "color": "black", "strokeWidth": 1.6},
    "encoding": {
     "x": {"field": "q", "type": "quantitative", "scale": {"domain": [-0.658, 0.658], "nice": false, "zero": false},
       "axis": {"orient": "top", "values": [-0.6,-0.5,-0.4,-0.3,-0.2,-0.1,0,0.1,0.2,0.3,0.4,0.5,0.6],
         "tickSize": {"condition": {"test": "round(datum.value*10)%3===0", "value": -21}, "value": -11},
         "labels": false, "title": null}},
     "y": {"field": "e", "type": "quantitative", "scale": {"domain": [-2000, 40000], "nice": false, "zero": false}, "axis": null},
     "detail": {"field": "i"}
    }},
   {"data": {"name": "cp"},
    "transform": [{"filter": "datum.i === 'a212' && datum.e > 25000"}],
    "mark": {"type": "point", "shape": "M-0.6,1L0,0L0.6,1", "filled": false, "color": "black", "strokeWidth": 1.6, "size": 300, "angle": -24.5, "opacity": 1},
    "encoding": {
     "x": {"field": "q", "type": "quantitative", "scale": {"domain": [-0.658, 0.658], "nice": false, "zero": false}, "axis": null},
     "y": {"field": "e", "type": "quantitative", "scale": {"domain": [-2000, 40000], "nice": false, "zero": false}, "axis": null}
    }},
   {"data": {"name": "cp"},
    "transform": [{"filter": "datum.i === 'a300' && datum.q > 0.2"}],
    "mark": {"type": "point", "shape": "M-0.6,1L0,0L0.6,1", "filled": false, "color": "black", "strokeWidth": 1.6, "size": 300, "angle": 72.7, "opacity": 1},
    "encoding": {
     "x": {"field": "q", "type": "quantitative", "scale": {"domain": [-0.658, 0.658], "nice": false, "zero": false}, "axis": null},
     "y": {"field": "e", "type": "quantitative", "scale": {"domain": [-2000, 40000], "nice": false, "zero": false}, "axis": null}
    }},
   {"data": {"name": "ca"},
    "mark": {"type": "rule", "strokeCap": "butt"},
    "encoding": {
     "x": {"field": "q", "type": "quantitative", "scale": {"domain": [-0.658, 0.658], "nice": false, "zero": false}, "axis": null},
     "y": {"field": "e1", "type": "quantitative", "scale": {"domain": [-2000, 40000], "nice": false, "zero": false}, "axis": null},
     "y2": {"field": "e2"},
     "color": {"field": "g", "type": "nominal", "legend": null, "scale": {"domain": ["gs","f52","d5","d5b","d5t","d5c","s6","s6t","x","abs","em5d","em4f","nr","thin5d","small"], "range": ["#000000","#ff0000","#0000ff","#0000ff","#0000ff","#0000ff","#ffa500","#ffa500","#6a0f3a","#000000","#0000ff","#ff0000","#008000","#0000ff","#000000"]}},
     "strokeWidth": {"field": "g", "type": "nominal", "legend": null, "scale": {"type": "ordinal", "domain": ["gs","f52","d5","d5b","d5t","d5c","s6","s6t","x","abs","em5d","em4f","nr","thin5d","small"], "range": [1.5,1.3,1.6,2.2,1.6,2.0,2.2,1.6,1.8,3,6,6,6,2,2]}}
    }},
   {"data": {"name": "ca"},
    "mark": {"type": "point", "filled": true, "opacity": 1, "strokeWidth": 0},
    "encoding": {
     "x": {"field": "q", "type": "quantitative", "scale": {"domain": [-0.658, 0.658], "nice": false, "zero": false}, "axis": null},
     "y": {"field": "e2", "type": "quantitative", "scale": {"domain": [-2000, 40000], "nice": false, "zero": false}, "axis": null},
     "color": {"field": "g", "type": "nominal", "legend": null, "scale": {"domain": ["gs","f52","d5","d5b","d5t","d5c","s6","s6t","x","abs","em5d","em4f","nr","thin5d","small"], "range": ["#000000","#ff0000","#0000ff","#0000ff","#0000ff","#0000ff","#ffa500","#ffa500","#6a0f3a","#000000","#0000ff","#ff0000","#008000","#0000ff","#000000"]}},
     "shape": {"field": "d", "type": "nominal", "legend": null, "scale": {"domain": ["up","dn"], "range": ["M-0.7,1L0.7,1L0,-1Z","M-0.7,-1L0.7,-1L0,1Z"]}},
     "size": {"field": "h", "type": "nominal", "legend": null, "scale": {"type": "ordinal", "domain": ["L","S","n","s"], "range": [330,140,29,21]}}
    }},
   {"data": {"name": "ct"},
    "mark": {"type": "text", "font": "Liberation Serif", "color": "black", "align": "center", "baseline": "middle"},
    "encoding": {
     "x": {"field": "q", "type": "quantitative", "scale": {"domain": [-0.658, 0.658], "nice": false, "zero": false}, "axis": null},
     "y": {"field": "e", "type": "quantitative", "scale": {"domain": [-2000, 40000], "nice": false, "zero": false}, "axis": null},
     "text": {"field": "t"},
     "size": {"field": "z", "type": "nominal", "legend": null, "scale": {"type": "ordinal", "domain": ["L","S","n","s"], "range": [330,140,29,21]}}
    }}
  ]
 },
 {
  "width": 476, "height": 10, "view": {"stroke": null},
  "resolve": {"scale": {"x": "independent"}},
  "layer": [
   {"data": {"values": [{"d": 2.3, "v": 0.5}]}, "mark": {"type": "point", "opacity": 0},
    "encoding": {
     "y": {"field": "v", "type": "quantitative", "scale": {"domain": [0, 1]}, "axis": null},
     "x": {"field": "d", "type": "quantitative", "scale": {"type": "log", "domain": [2.1687, 2.4973], "reverse": true, "nice": false},
      "axis": {"orient": "top", "values": [2.17,2.18,2.19,2.2,2.21,2.22,2.23,2.24,2.25,2.26,2.27,2.28,2.29,2.3,2.31,2.32,2.33,2.34,2.35,2.36,2.37,2.38,2.39,2.4,2.41,2.42,2.43,2.44,2.45,2.46,2.47,2.48,2.49],
       "tickSize": {"condition": {"test": "round(datum.value*100)%5===0", "value": 17}, "value": 8},
       "labelExpr": "round(datum.value*100)%10===0 ? format(datum.value,'.1f') : ''",
       "labelOverlap": false, "labelPadding": -2, "domain": true, "domainColor": "black", "domainWidth": 1.5,
       "title": "d(Yb-F)ₗ / Å", "titlePadding": 15}}}},
   {"data": {"values": [{"d": 2.3, "v": 0.5}]}, "mark": {"type": "point", "opacity": 0},
    "encoding": {
     "y": {"field": "v", "type": "quantitative", "scale": {"domain": [0, 1]}, "axis": null},
     "x": {"field": "d", "type": "quantitative", "scale": {"type": "log", "domain": [2.1687, 2.4973], "nice": false},
      "axis": {"orient": "bottom", "values": [2.17,2.18,2.19,2.2,2.21,2.22,2.23,2.24,2.25,2.26,2.27,2.28,2.29,2.3,2.31,2.32,2.33,2.34,2.35,2.36,2.37,2.38,2.39,2.4,2.41,2.42,2.43,2.44,2.45,2.46,2.47,2.48,2.49],
       "tickSize": {"condition": {"test": "round(datum.value*100)%5===0", "value": 17}, "value": 8},
       "labelExpr": "round(datum.value*100)%10===0 ? format(datum.value,'.1f') : ''",
       "labelOverlap": false, "labelPadding": 7, "domain": true, "domainColor": "black", "domainWidth": 1.5,
       "title": "d(Yb-F)ᵣ / Å", "titlePadding": 10}}}}
  ]
 },
 {
  "width": 476, "height": 10, "view": {"stroke": null},
  "resolve": {"scale": {"x": "independent"}},
  "layer": [
   {"data": {"values": [{"d": 2.8, "v": 0.5}]}, "mark": {"type": "point", "opacity": 0},
    "encoding": {
     "y": {"field": "v", "type": "quantitative", "scale": {"domain": [0, 1]}, "axis": null},
     "x": {"field": "d", "type": "quantitative", "scale": {"type": "pow", "exponent": -1.8, "domain": [2.6383, 2.9605], "reverse": true, "nice": false, "zero": false},
      "axis": {"orient": "top", "values": [2.64,2.65,2.66,2.67,2.68,2.69,2.7,2.71,2.72,2.73,2.74,2.75,2.76,2.77,2.78,2.79,2.8,2.81,2.82,2.83,2.84,2.85,2.86,2.87,2.88,2.89,2.9,2.91,2.92,2.93,2.94,2.95,2.96],
       "tickSize": {"condition": {"test": "round(datum.value*100)%5===0", "value": 17}, "value": 8},
       "labelExpr": "round(datum.value*100)%10===0 ? format(datum.value,'.1f') : ''",
       "labelOverlap": false, "labelPadding": -2, "domain": true, "domainColor": "black", "domainWidth": 1.5,
       "title": "d(Yb-Cl)ₗ / Å", "titlePadding": 15}}}},
   {"data": {"values": [{"d": 2.8, "v": 0.5}]}, "mark": {"type": "point", "opacity": 0},
    "encoding": {
     "y": {"field": "v", "type": "quantitative", "scale": {"domain": [0, 1]}, "axis": null},
     "x": {"field": "d", "type": "quantitative", "scale": {"type": "pow", "exponent": -1.8, "domain": [2.6383, 2.9605], "nice": false, "zero": false},
      "axis": {"orient": "bottom", "values": [2.64,2.65,2.66,2.67,2.68,2.69,2.7,2.71,2.72,2.73,2.74,2.75,2.76,2.77,2.78,2.79,2.8,2.81,2.82,2.83,2.84,2.85,2.86,2.87,2.88,2.89,2.9,2.91,2.92,2.93,2.94,2.95,2.96],
       "tickSize": {"condition": {"test": "round(datum.value*100)%5===0", "value": 17}, "value": 8},
       "labelExpr": "round(datum.value*100)%10===0 ? format(datum.value,'.1f') : ''",
       "labelOverlap": false, "labelPadding": 7, "domain": true, "domainColor": "black", "domainWidth": 1.5,
       "title": "d(Yb-Cl)ᵣ / Å", "titlePadding": 10}}}}
  ]
 }
]
}
